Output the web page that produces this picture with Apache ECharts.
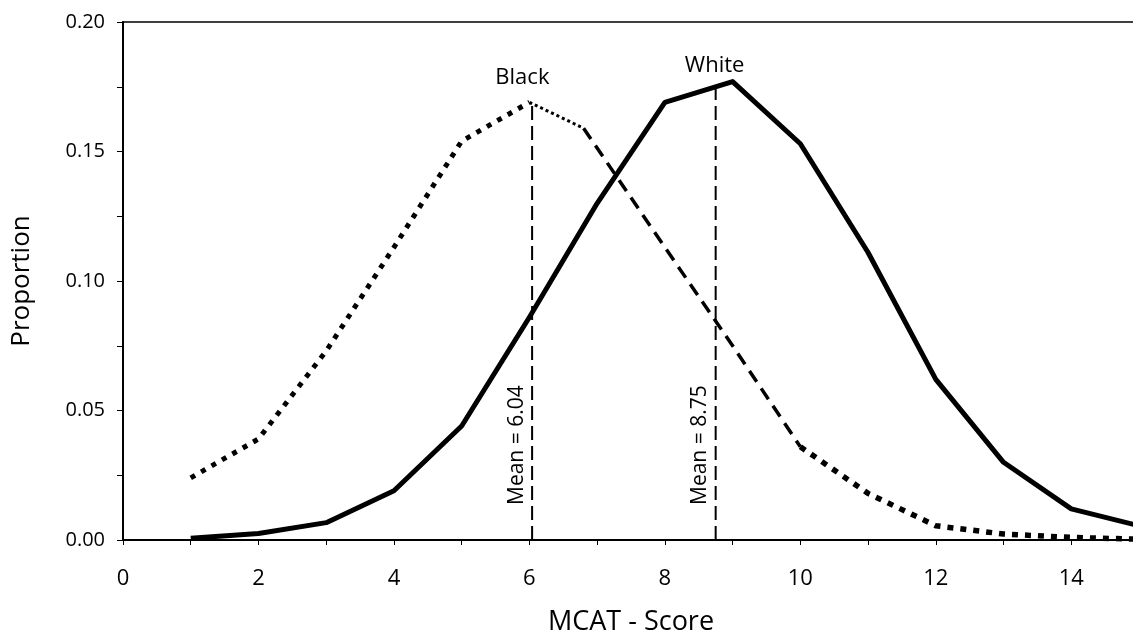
<!DOCTYPE html>
<html>
<head>
<meta charset="utf-8">
<script src="https://cdn.jsdelivr.net/npm/echarts@6/dist/echarts.min.js"></script>
<style>
html,body{margin:0;padding:0;background:#fff;}
#chart{width:1133px;height:639px;}
</style>
</head>
<body>
<div id="chart"></div>
<script>
// ---- data ----
const whiteScores = [1,2,3,4,5,6,7,8,9,10,11,12,13,14,15];
const whiteProp   = [0.0007,0.0025,0.0067,0.019,0.044,0.086,0.130,0.169,0.177,0.153,0.111,0.062,0.030,0.012,0.0055];
const blackScores = [1,2,3,4,5,6,6.8,8,9,10,11,12,13,14,15];
const blackProp   = [0.024,0.039,0.073,0.113,0.154,0.169,0.159,0.113,0.075,0.036,0.018,0.0055,0.0023,0.001,0.0003];
const meanScores  = [6.04, 8.75];
const meanTops    = [0.169, 0.175];
const meanLabels  = ['Mean = 6.04', 'Mean = 8.75'];
const groupNames  = ['Black', 'White'];
const xTickLabels = [0,2,4,6,8,10,12,14];
const yTickLabels = ['0.00','0.05','0.10','0.15','0.20'];

const FONT = 'Open Sans';

function pairs(xs, ys, from, to) {
  const out = [];
  for (let i = from; i <= to; i++) out.push([xs[i], ys[i]]);
  return out;
}

function lineSeries(name, data, width, type) {
  return {
    name: name, type: 'line', data: data, symbol: 'none', silent: true,
    lineStyle: { color: '#000', width: width, type: type, cap: 'butt', join: 'round' },
    z: 3
  };
}

const series = [
  lineSeries('White', pairs(whiteScores, whiteProp, 0, whiteScores.length - 1), 5, 'solid'),
  lineSeries('Black', pairs(blackScores, blackProp, 0, 5), 5, [5, 7]),
  lineSeries('Black', pairs(blackScores, blackProp, 5, 6), 3, [3, 3]),
  lineSeries('Black', pairs(blackScores, blackProp, 6, 9), 3.5, [13, 8]),
  lineSeries('Black', pairs(blackScores, blackProp, 9, blackScores.length - 1), 5.5, [6, 7])
];
meanScores.forEach(function (m, i) {
  series.push(lineSeries('Mean', [[m, 0], [m, meanTops[i]]], 2, [14, 6]));
});

const chart = echarts.init(document.getElementById('chart'), null, { renderer: 'canvas' });
chart.setOption({
  animation: false,
  backgroundColor: '#fff',
  grid: { left: 123, top: 22, width: 1016, height: 518, show: true, borderColor: '#000', borderWidth: 1.5, containLabel: false, outerBoundsMode: 'none' },
  xAxis: {
    type: 'value', min: 0, max: 15, interval: 1,
    name: 'MCAT - Score', nameLocation: 'middle', nameGap: 69,
    nameTextStyle: { fontFamily: FONT, fontSize: 27, color: '#000' },
    axisLine: { show: true, onZero: false, lineStyle: { color: '#000', width: 2 } },
    axisTick: { show: true, inside: false, length: 5, lineStyle: { color: '#000', width: 1 } },
    axisLabel: {
      fontFamily: FONT, fontSize: 22, color: '#000', margin: 28,
      formatter: function (v) { return xTickLabels.indexOf(v) >= 0 ? String(v) : ''; }
    },
    splitLine: { show: false }
  },
  yAxis: {
    type: 'value', min: 0, max: 0.2, interval: 0.05,
    name: 'Proportion', nameLocation: 'middle', nameGap: 88, nameRotate: 90,
    nameTextStyle: { fontFamily: FONT, fontSize: 26, color: '#000' },
    axisLine: { show: true, lineStyle: { color: '#000', width: 2 } },
    axisTick: { show: true, length: 6, lineStyle: { color: '#000', width: 1 } },
    minorTick: { show: true, splitNumber: 2, length: 6, lineStyle: { color: '#000', width: 1 } },
    axisLabel: {
      fontFamily: FONT, fontSize: 20, color: '#000', margin: 18,
      formatter: function (v) { return yTickLabels[Math.round(v / 0.05)]; }
    },
    splitLine: { show: false }
  },
  series: series
});

// text labels placed via the chart's own scales
const graphics = [];
meanScores.forEach(function (m, i) {
  const p = chart.convertToPixel({ gridIndex: 0 }, [m, 0]);
  graphics.push({
    type: 'text', x: p[0] - 5, y: p[1] - 35, rotation: Math.PI / 2,
    style: { text: meanLabels[i], fontFamily: FONT, fontSize: 21, fill: '#000', textAlign: 'left', textVerticalAlign: 'bottom' },
    z: 10
  });
});
const bPeak = chart.convertToPixel({ gridIndex: 0 }, [blackScores[5], blackProp[5]]);
graphics.push({
  type: 'text', x: bPeak[0] - 7, y: bPeak[1] - 25,
  style: { text: groupNames[0], fontFamily: FONT, fontSize: 22, fill: '#000', textAlign: 'center', textVerticalAlign: 'middle' }
});
const wPeak = chart.convertToPixel({ gridIndex: 0 }, [whiteScores[8], whiteProp[8]]);
graphics.push({
  type: 'text', x: wPeak[0] - 18, y: wPeak[1] - 16,
  style: { text: groupNames[1], fontFamily: FONT, fontSize: 22, fill: '#000', textAlign: 'center', textVerticalAlign: 'middle' }
});
chart.setOption({ graphic: graphics });
</script>
</body>
</html>
